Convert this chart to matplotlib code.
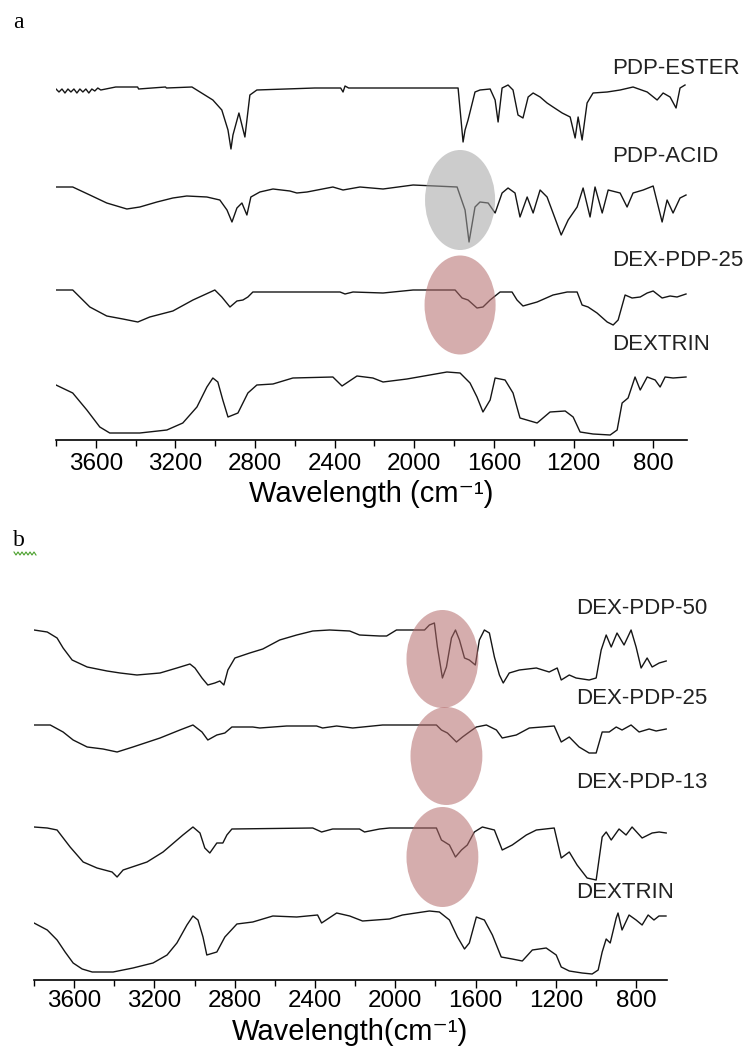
import numpy as np
import matplotlib.pyplot as plt
from matplotlib.patches import Ellipse
from matplotlib.lines import Line2D

plt.rcParams['font.family'] = ['Liberation Sans', 'DejaVu Sans']

# ---- panel a: FTIR spectra, wavenumber (cm-1) vs transmittance (a.u.)
ester_wn = [3800, 3785, 3770, 3755, 3740, 3725, 3710, 3695, 3680, 3665, 3650, 3635, 3620, 3605,
            3590, 3575, 3500, 3390, 3385, 3250, 3245, 3117, 3012, 2967, 2936, 2921, 2911, 2881,
            2851, 2826, 2791, 2500, 2370, 2358, 2348, 2330, 2100, 1780, 1755, 1745, 1730, 1695,
            1670, 1619, 1594, 1579, 1559, 1529, 1504, 1479, 1454, 1428, 1403, 1368, 1333, 1303,
            1257, 1217, 1192, 1177, 1157, 1132, 1102, 1031, 966, 901, 830, 780, 750, 715, 685,
            665, 640]
ester_t = [62, 59, 62, 58, 62, 59, 62, 58, 62, 59, 62, 58, 62, 60,
           63, 61, 64, 64, 62, 64, 63, 64, 51, 41, 21, 2, 16, 38,
           14, 56, 61, 63, 63, 59, 65, 63, 63, 63, 9, 21, 31, 59,
           61, 62, 51, 29, 63, 66, 61, 36, 33, 54, 58, 54, 48, 44,
           38, 34, 13, 34, 11, 48, 58, 59, 61, 64, 59, 51, 58, 54, 43,
           63, 66]

acid_wn = [3800, 3716, 3630, 3545, 3444, 3379, 3293, 3213, 3143, 3042, 2977, 2941, 2916, 2891,
           2866, 2841, 2821, 2776, 2710, 2625, 2590, 2539, 2409, 2358, 2273, 2157, 2006, 1785,
           1745, 1725, 1695, 1670, 1629, 1594, 1559, 1529, 1494, 1469, 1433, 1403, 1368, 1333,
           1303, 1262, 1227, 1182, 1152, 1117, 1092, 1056, 1026, 966, 931, 901, 850, 800, 755,
           730, 700, 665, 635]
acid_t = [59, 59, 51, 43, 37, 39, 44, 48, 50, 49, 46, 36, 24, 38,
          43, 31, 49, 54, 57, 55, 53, 54, 59, 56, 59, 57, 61, 59,
          36, 4, 39, 44, 43, 33, 53, 58, 53, 29, 49, 33, 56, 49,
          33, 11, 26, 39, 58, 29, 59, 33, 56, 53, 39, 53, 56, 60, 24,
          46, 33, 48, 51]

dex25a_wn = [3800, 3716, 3630, 3545, 3464, 3389, 3329, 3213, 3112, 3002, 2967, 2926, 2891, 2861,
             2836, 2811, 2373, 2348, 2308, 2157, 2006, 1795, 1760, 1730, 1685, 1655, 1619, 1569,
             1509, 1484, 1454, 1383, 1303, 1232, 1182, 1157, 1127, 1082, 1031, 1001, 976, 941,
             906, 865, 830, 800, 755, 715, 680, 635]
dex25a_t = [36, 36, 19, 10, 7, 4, 9, 15, 26, 36, 29, 19, 25, 26,
            29, 34, 34, 32, 34, 33, 36, 36, 28, 26, 18, 19, 26, 34,
            34, 26, 20, 24, 31, 34, 34, 21, 19, 13, 4, 1, 6, 31,
            28, 29, 33, 35, 28, 30, 29, 32]

dexa_wn = [3800, 3716, 3645, 3580, 3530, 3379, 3243, 3163, 3092, 3042, 3012, 2987, 2962, 2936,
           2886, 2836, 2791, 2710, 2610, 2409, 2363, 2288, 2208, 2157, 2037, 1836, 1770, 1720,
           1685, 1655, 1619, 1594, 1544, 1504, 1469, 1383, 1318, 1242, 1202, 1167, 1102, 1016,
           981, 956, 926, 891, 865, 830, 790, 765, 740, 700, 635]
dexa_t = [51, 43, 26, 9, 3, 3, 6, 13, 29, 49, 58, 54, 36, 19,
          23, 43, 51, 52, 58, 59, 50, 60, 58, 54, 57, 64, 63, 53,
          39, 24, 36, 58, 56, 43, 18, 13, 24, 25, 19, 4, 2, 1,
          6, 33, 38, 59, 46, 59, 56, 49, 59, 58, 59]

# ---- panel b
dex50_wn = [3800, 3734, 3685, 3655, 3610, 3535, 3436, 3371, 3287, 3172, 3088, 3023, 2998, 2963,
            2934, 2899, 2874, 2854, 2834, 2799, 2725, 2660, 2576, 2491, 2411, 2327, 2227, 2178,
            2078, 2043, 1994, 1854, 1830, 1805, 1790, 1765, 1745, 1720, 1700, 1680, 1655, 1631,
            1601, 1581, 1556, 1531, 1506, 1481, 1462, 1432, 1382, 1297, 1233, 1193, 1173, 1133,
            1099, 1034, 999, 974, 949, 924, 895, 860, 825, 800, 775, 745, 720, 685, 650]
dex50_t = [55, 53, 47, 37, 25, 18, 14, 12, 10, 12, 17, 21, 17, 7,
           0, 2, 4, 0, 15, 27, 32, 36, 45, 50, 54, 55, 54, 50,
           49, 49, 55, 55, 60, 62, 38, 7, 18, 47, 55, 45, 27, 25,
           20, 45, 55, 52, 28, 10, 2, 12, 15, 17, 13, 17, 5, 10,
           7, 5, 7, 35, 50, 38, 52, 40, 55, 38, 17, 27, 18, 22, 24]

dex25b_wn = [3800, 3719, 3655, 3605, 3535, 3456, 3386, 3307, 3172, 3073, 3008, 2963, 2934, 2889,
             2849, 2814, 2710, 2675, 2541, 2392, 2362, 2292, 2212, 2063, 1795, 1770, 1740, 1695,
             1665, 1631, 1596, 1546, 1496, 1467, 1397, 1332, 1268, 1208, 1173, 1133, 1084, 1034,
             999, 969, 934, 899, 870, 825, 785, 735, 700, 650]
dex25b_t = [30, 30, 23, 15, 8, 6, 3, 8, 17, 25, 30, 23, 15, 20,
            22, 28, 28, 27, 29, 29, 27, 29, 27, 30, 30, 25, 22, 13,
            18, 23, 28, 30, 25, 17, 20, 27, 28, 29, 13, 18, 8, 2,
            2, 23, 23, 28, 25, 30, 23, 26, 24, 26]

dex13_wn = [3800, 3734, 3685, 3620, 3555, 3486, 3411, 3386, 3356, 3237, 3157, 3058, 3008, 2973,
            2949, 2924, 2889, 2859, 2839, 2814, 2411, 2367, 2312, 2178, 2153, 2078, 2029, 1795,
            1770, 1730, 1700, 1670, 1641, 1606, 1566, 1506, 1467, 1417, 1347, 1297, 1208, 1173,
            1133, 1094, 1044, 999, 969, 949, 924, 885, 850, 820, 770, 720, 685, 650]
dex13_t = [55, 54, 52, 35, 20, 14, 10, 5, 12, 20, 30, 47, 55, 49,
           34, 29, 39, 39, 47, 53, 54, 50, 53, 53, 50, 53, 54, 54,
           42, 37, 25, 32, 37, 50, 55, 52, 32, 37, 47, 52, 54, 24,
           30, 17, 4, 2, 45, 50, 42, 53, 47, 55, 44, 49, 50, 49]

dexb_wn = [3800, 3734, 3685, 3645, 3605, 3560, 3510, 3406, 3307, 3207, 3137, 3088, 3038, 3008,
           2983, 2958, 2939, 2889, 2849, 2789, 2710, 2610, 2491, 2387, 2367, 2292, 2227, 2163,
           2029, 1964, 1830, 1780, 1730, 1690, 1655, 1631, 1596, 1556, 1516, 1472, 1417, 1367,
           1317, 1248, 1198, 1173, 1133, 1069, 1019, 989, 969, 949, 929, 899, 890, 870, 835,
           800, 770, 740, 711, 686, 651]
dexb_t = [52, 45, 35, 23, 12, 6, 3, 3, 7, 12, 20, 32, 50, 59,
          55, 38, 20, 23, 38, 51, 53, 59, 58, 60, 52, 62, 59, 54,
          56, 60, 64, 63, 55, 38, 26, 32, 58, 55, 40, 18, 16, 14,
          25, 27, 20, 8, 4, 2, 1, 5, 23, 36, 32, 57, 62, 45, 60,
          55, 50, 60, 55, 59, 59]

names_a = ['PDP-ESTER', 'PDP-ACID', 'DEX-PDP-25', 'DEXTRIN']
names_b = ['DEX-PDP-50', 'DEX-PDP-25', 'DEX-PDP-13', 'DEXTRIN']

W, H = 752, 1046
fig = plt.figure(figsize=(W / 100, H / 100), dpi=100)


def draw_panel(rect, spectra, names, offsets, label_x, label_y, xmax, ellipses, pad,
               xlabel, xlabel_y):
    ax = fig.add_axes(rect)
    for (wn, t), off in zip(spectra, offsets):
        ax.plot(wn, np.array(t) + off, color='#151515', lw=1.0, zorder=2)
    for name, ly in zip(names, label_y):
        ax.text(label_x, ly, name, fontsize=16, color='#222222', ha='left', va='center',
                clip_on=False)
    for (cx, cy, ew, eh, fc) in ellipses:
        ax.add_patch(Ellipse((cx, cy), ew, eh, facecolor=fc, edgecolor='none',
                             alpha=0.55, zorder=3))
    ax.set_xlim(3800, xmax)
    ax.set_ylim(0, 400)
    ax.set_xticks(range(800, 3601, 400))
    ax.set_xticks(range(1000, 3801, 400), minor=True)
    ax.tick_params(axis='x', which='major', direction='out', length=6, width=1.0,
                   labelsize=17.5, pad=pad)
    ax.tick_params(axis='x', which='minor', direction='out', length=4, width=1.0)
    ax.set_yticks([])
    for s in ['left', 'top', 'right']:
        ax.spines[s].set_visible(False)
    ax.spines['bottom'].set_linewidth(1.2)
    ax.text(0.5, xlabel_y, xlabel, fontsize=21, ha='center', va='baseline',
            transform=ax.transAxes)
    ax.set_facecolor('none')
    return ax


grey = '#a2a2a2'
pink = '#b36b6b'

draw_panel([56 / W, (H - 440) / H, 631 / W, 400 / H],
           [(ester_wn, ester_t), (acid_wn, acid_t), (dex25a_wn, dex25a_t), (dexa_wn, dexa_t)],
           names_a, [289, 194, 114, 4], 1006, [372, 283, 180, 95], 630,
           [(1770, 240, 352, 100, grey), (1770, 135, 357, 99, pink)], 3,
           'Wavelength (cm\u207b\u00b9)', -0.155)

draw_panel([34 / W, (H - 980) / H, 633 / W, 400 / H],
           [(dex50_wn, dex50_t), (dex25b_wn, dex25b_t), (dex13_wn, dex13_t), (dexb_wn, dexb_t)],
           names_b, [295, 225, 98, 5], 1099, [372, 282, 197, 87], 646,
           [(1765, 321, 358, 98, pink), (1745, 224, 358, 98, pink), (1765, 123, 358, 100, pink)], 1.5,
           'Wavelength(cm\u207b\u00b9)', -0.15)

fig.text(13 / W, 1 - 22 / H, 'a', family='Liberation Serif', fontsize=17, va='center')
fig.text(13 / W, 1 - 540 / H, 'b', family='Liberation Serif', fontsize=17, va='center')

# spell-check squiggle under "b"
sx = np.linspace(14, 36, 12)
sy = np.where(np.arange(12) % 2 == 0, 552, 555)
fig.add_artist(Line2D(sx / W, 1 - sy / H, color='#4aa02c', lw=0.8))

fig.savefig('out.png', dpi=100)
